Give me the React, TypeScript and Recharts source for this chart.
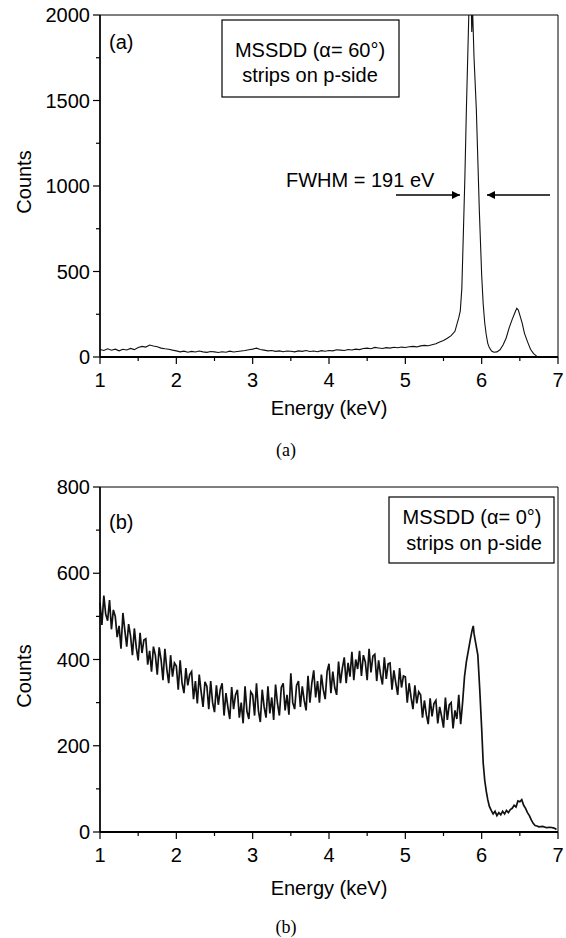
import { Line, LineChart, ReferenceArea, XAxis, YAxis } from "recharts"

const FONT = "'Liberation Sans', Arial, Helvetica, sans-serif"
const SERIF = "'Liberation Serif', 'Times New Roman', serif"

// axis ticks
const energyTicks = [1, 1.5, 2, 2.5, 3, 3.5, 4, 4.5, 5, 5.5, 6, 6.5, 7]
const countTicksA = [0, 250, 500, 750, 1000, 1250, 1500, 1750, 2000]
const countTicksB = [0, 100, 200, 300, 400, 500, 600, 700, 800]

// (a) alpha = 60 deg : flat background up to the Mn K lines
const aBaseE = [
  1, 1.05, 1.1, 1.15, 1.2, 1.25, 1.3, 1.35, 1.4, 1.45,
  1.5, 1.55, 1.6, 1.65, 1.7, 1.75, 1.8, 1.85, 1.9, 1.95,
  2, 2.05, 2.1, 2.15, 2.2, 2.25, 2.3, 2.35, 2.4, 2.45,
  2.5, 2.55, 2.6, 2.65, 2.7, 2.75, 2.8, 2.85, 2.9, 2.95,
  3, 3.05, 3.1, 3.15, 3.2, 3.25, 3.3, 3.35, 3.4, 3.45,
  3.5, 3.55, 3.6, 3.65, 3.7, 3.75, 3.8, 3.85, 3.9, 3.95,
  4, 4.05, 4.1, 4.15, 4.2, 4.25, 4.3, 4.35, 4.4, 4.45,
  4.5, 4.55, 4.6, 4.65, 4.7, 4.75, 4.8, 4.85, 4.9, 4.95,
  5, 5.05, 5.1, 5.15, 5.2, 5.25, 5.3, 5.35, 5.4, 5.45,
  5.5, 5.55, 5.6, 5.65,
]
const aBaseC = [
  44, 38, 48, 40, 46, 36, 45, 41, 50, 43,
  55, 62, 58, 70, 64, 60, 52, 48, 45, 40,
  36, 30, 34, 28, 33, 29, 35, 30, 27, 32,
  30, 26, 31, 28, 34, 29, 32, 35, 38, 42,
  46, 52, 44, 40, 36, 38, 33, 36, 31, 35,
  34, 30, 36, 33, 38, 32, 35, 31, 37, 34,
  38, 36, 42, 40, 38, 44, 41, 46, 43, 50,
  52, 48, 56, 53, 50, 55, 52, 57, 54, 58,
  56, 60, 62, 59, 65, 68, 66, 72, 78, 88,
  96, 110, 125, 150,
]
// (a) Mn K-alpha / K-beta peaks
const aPeakE = [
  5.7, 5.72, 5.74, 5.76, 5.78, 5.8, 5.82, 5.84, 5.86, 5.87,
  5.88, 5.9, 5.93, 5.95, 5.97, 6, 6.02, 6.04, 6.06, 6.08,
  6.1, 6.13, 6.16, 6.2, 6.24, 6.28, 6.32, 6.36, 6.4, 6.44,
  6.46, 6.48, 6.5, 6.53, 6.56, 6.6, 6.64, 6.68, 6.72, 6.74,
]
const aPeakC = [
  230, 270, 400, 720, 1050, 1450, 1800, 2150, 2150, 1900,
  2050, 1750, 1450, 1150, 850, 480, 310, 200, 130, 80,
  55, 35, 28, 30, 42, 70, 110, 170, 220, 265,
  285, 275, 245, 200, 140, 90, 45, 20, 5, 0,
]

// (b) alpha = 0 deg : noisy continuum
const bNoiseE = [
  1, 1.025, 1.05, 1.075, 1.1, 1.125, 1.15, 1.175,
  1.2, 1.225, 1.25, 1.275, 1.3, 1.325, 1.35, 1.375,
  1.4, 1.425, 1.45, 1.475, 1.5, 1.525, 1.55, 1.575,
  1.6, 1.625, 1.65, 1.675, 1.7, 1.725, 1.75, 1.775,
  1.8, 1.825, 1.85, 1.875, 1.9, 1.925, 1.95, 1.975,
  2, 2.025, 2.05, 2.075, 2.1, 2.125, 2.15, 2.175,
  2.2, 2.225, 2.25, 2.275, 2.3, 2.325, 2.35, 2.375,
  2.4, 2.425, 2.45, 2.475, 2.5, 2.525, 2.55, 2.575,
  2.6, 2.625, 2.65, 2.675, 2.7, 2.725, 2.75, 2.775,
  2.8, 2.825, 2.85, 2.875, 2.9, 2.925, 2.95, 2.975,
  3, 3.025, 3.05, 3.075, 3.1, 3.125, 3.15, 3.175,
  3.2, 3.225, 3.25, 3.275, 3.3, 3.325, 3.35, 3.375,
  3.4, 3.425, 3.45, 3.475, 3.5, 3.525, 3.55, 3.575,
  3.6, 3.625, 3.65, 3.675, 3.7, 3.725, 3.75, 3.775,
  3.8, 3.825, 3.85, 3.875, 3.9, 3.925, 3.95, 3.975,
  4, 4.025, 4.05, 4.075, 4.1, 4.125, 4.15, 4.175,
  4.2, 4.225, 4.25, 4.275, 4.3, 4.325, 4.35, 4.375,
  4.4, 4.425, 4.45, 4.475, 4.5, 4.525, 4.55, 4.575,
  4.6, 4.625, 4.65, 4.675, 4.7, 4.725, 4.75, 4.775,
  4.8, 4.825, 4.85, 4.875, 4.9, 4.925, 4.95, 4.975,
  5, 5.025, 5.05, 5.075, 5.1, 5.125, 5.15, 5.175,
  5.2, 5.225, 5.25, 5.275, 5.3, 5.325, 5.35, 5.375,
  5.4, 5.425, 5.45, 5.475, 5.5, 5.525, 5.55, 5.575,
  5.6, 5.625, 5.65, 5.675, 5.7, 5.725,
]
const bNoiseC = [
  532, 480, 548, 505, 490, 538, 470, 515,
  500, 452, 478, 425, 508, 468, 430, 482,
  455, 410, 472, 428, 398, 462, 415, 445,
  448, 388, 420, 372, 430, 410, 365, 428,
  400, 352, 425, 378, 345, 410, 360, 392,
  385, 330, 398, 345, 322, 380, 340, 365,
  372, 308, 350, 298, 365, 325, 290, 348,
  338, 285, 350, 300, 278, 340, 295, 330,
  345, 270, 322, 290, 262, 336, 285, 318,
  330, 265, 300, 252, 338, 280, 262, 325,
  318, 270, 345, 282, 255, 330, 290, 265,
  338, 275, 312, 260, 342, 298, 270, 335,
  345, 282, 318, 272, 368, 300, 285, 340,
  350, 290, 338, 305, 282, 362, 300, 345,
  375, 312, 350, 300, 365, 330, 308, 372,
  390, 322, 372, 335, 318, 395, 345, 380,
  405, 345, 392, 360, 418, 352, 400, 378,
  420, 362, 410, 395, 352, 425, 370, 408,
  412, 350, 398, 365, 342, 405, 355, 390,
  392, 330, 375, 345, 318, 380, 335, 362,
  360, 300, 345, 312, 285, 340, 298, 325,
  318, 265, 305, 272, 250, 310, 268, 298,
  305, 252, 290, 268, 242, 312, 260, 295,
  300, 240, 282, 262, 318, 250,
]
// (b) peaks and tail
const bPeakE = [
  5.75, 5.775, 5.8, 5.825, 5.85, 5.875, 5.89, 5.9, 5.925, 5.95,
  5.975, 6, 6.02, 6.04, 6.06, 6.08, 6.1, 6.125, 6.15, 6.175,
  6.2, 6.225, 6.25, 6.275, 6.3, 6.325, 6.35, 6.375, 6.4, 6.425,
  6.45, 6.475, 6.5, 6.525, 6.55, 6.575, 6.6, 6.625, 6.65, 6.675,
  6.7, 6.725, 6.75, 6.8, 6.85, 6.9, 6.95, 6.98,
]
const bPeakC = [
  300, 360, 395, 420, 445, 468, 478, 460, 435, 410,
  330, 240, 160, 120, 95, 75, 60, 50, 42, 48,
  38, 45, 40, 48, 42, 50, 45, 52, 55, 62,
  58, 72, 70, 75, 62, 55, 45, 38, 28, 20,
  15, 14, 12, 13, 10, 11, 9, 6,
]

const toPoints = (e: number[], c: number[]) => e.map((v, i) => ({ e: v, c: c[i] }))
const dataA = [...toPoints(aBaseE, aBaseC), ...toPoints(aPeakE, aPeakC)]
const dataB = [...toPoints(bNoiseE, bNoiseC), ...toPoints(bPeakE, bPeakC)]

function XTick(props: any) {
  const { x, y, payload } = props
  const major = Number.isInteger(payload.value)
  return (
    <g>
      <line x1={x} x2={x} y1={y} y2={y + (major ? 7 : 4)} stroke="#000" strokeWidth={1.2} />
      {major && (
        <text x={x} y={y + 30} textAnchor="middle" fontSize={20} fontFamily={FONT} fill="#000">
          {payload.value}
        </text>
      )}
    </g>
  )
}

function TopTick(props: any) {
  const { x, y } = props
  return <line x1={x} x2={x} y1={y} y2={y + 5} stroke="#000" strokeWidth={1} />
}

const makeYTick = (step: number) =>
  function YTick(props: any) {
    const { x, y, payload } = props
    const major = payload.value % step === 0
    return (
      <g>
        <line x1={x} x2={x - (major ? 7 : 4)} y1={y} y2={y} stroke="#000" strokeWidth={1.2} />
        {major && (
          <text x={x - 10} y={y + 7} textAnchor="end" fontSize={20} fontFamily={FONT} fill="#000">
            {payload.value}
          </text>
        )}
      </g>
    )
  }

const YTickA = makeYTick(500)
const YTickB = makeYTick(200)

function Spectrum({ data, yMax, yTicks, yTick, axisHeight, strokeWidth }: any) {
  return (
    <LineChart width={566} height={460} data={data} margin={{ top: 15, right: 8, bottom: 0, left: 0 }}>
      <XAxis
        xAxisId="x"
        dataKey="e"
        type="number"
        domain={[1, 7]}
        ticks={energyTicks}
        interval={0}
        height={axisHeight}
        tickSize={0}
        tickMargin={0}
        tickLine={false}
        tick={(p: any) => <XTick {...p} />}
        axisLine={{ stroke: "#000", strokeWidth: 2 }}
      />
      <XAxis
        xAxisId="top"
        orientation="top"
        type="number"
        domain={[1, 7]}
        ticks={[1, 2, 3, 4, 5, 6, 7]}
        interval={0}
        height={0}
        tickSize={0}
        tickMargin={0}
        tickLine={false}
        tick={(p: any) => <TopTick {...p} />}
        axisLine={{ stroke: "#000", strokeWidth: 1 }}
      />
      <YAxis
        yAxisId="y"
        type="number"
        domain={[0, yMax]}
        ticks={yTicks}
        interval={0}
        allowDataOverflow
        width={100}
        tickSize={0}
        tickMargin={0}
        tickLine={false}
        tick={(p: any) => yTick(p)}
        axisLine={{ stroke: "#000", strokeWidth: 1.5 }}
      />
      <ReferenceArea
        xAxisId="x"
        yAxisId="y"
        x1={1}
        x2={7}
        y1={0}
        y2={yMax}
        fill="none"
        stroke="#000"
        strokeWidth={1}
      />
      <Line
        xAxisId="x"
        yAxisId="y"
        type="linear"
        dataKey="c"
        stroke="#111"
        strokeWidth={strokeWidth}
        dot={false}
        isAnimationActive={false}
      />
    </LineChart>
  )
}

export default function App() {
  const txt = { fontFamily: FONT, fontSize: 20, fill: "#000" }
  return (
    <div style={{ position: "absolute", left: 0, top: 0, width: 566, height: 938, background: "#fff" }}>
      <div style={{ position: "absolute", left: 0, top: 0 }}>
        <Spectrum data={dataA} yMax={2000} yTicks={countTicksA} yTick={YTickA} axisHeight={103} strokeWidth={1.1} />
      </div>
      <div style={{ position: "absolute", left: 0, top: 472 }}>
        <Spectrum data={dataB} yMax={800} yTicks={countTicksB} yTick={YTickB} axisHeight={100} strokeWidth={1.7} />
      </div>
      <svg width={566} height={938} style={{ position: "absolute", left: 0, top: 0, pointerEvents: "none" }}>
        <defs>
          <marker id="arrow" viewBox="0 0 10 10" refX="10" refY="5" markerWidth="12" markerHeight="8" markerUnits="userSpaceOnUse" orient="auto">
            <path d="M0,0 L10,5 L0,10 z" fill="#000" />
          </marker>
        </defs>

        {/* panel (a) */}
        <text {...txt} x={109} y={49}>(a)</text>
        <rect x={222} y={20} width={177} height={77} fill="#fff" stroke="#000" strokeWidth={1.2} />
        <text {...txt} x={310} y={57} textAnchor="middle">MSSDD (α= 60°)</text>
        <text {...txt} x={310} y={82} textAnchor="middle">strips on p-side</text>
        <text {...txt} x={286} y={187}>FWHM = 191 eV</text>
        <line x1={396} y1={195} x2={460} y2={195} stroke="#000" strokeWidth={1.5} markerEnd="url(#arrow)" />
        <line x1={550} y1={195} x2={487} y2={195} stroke="#000" strokeWidth={1.5} markerEnd="url(#arrow)" />
        <text {...txt} x={24} y={182} textAnchor="middle" transform="rotate(-90 24 182)" dy={7}>Counts</text>
        <text {...txt} x={329} y={415} textAnchor="middle">Energy (keV)</text>
        <text x={286} y={456} textAnchor="middle" fontFamily={SERIF} fontSize={18}>(a)</text>

        {/* panel (b) */}
        <text {...txt} x={109} y={529}>(b)</text>
        <rect x={389} y={497} width={165} height={66} fill="#fff" stroke="#000" strokeWidth={1.2} />
        <text {...txt} x={472} y={524} textAnchor="middle">MSSDD (α= 0°)</text>
        <text {...txt} x={474} y={550} textAnchor="middle">strips on p-side</text>
        <text {...txt} x={24} y={676} textAnchor="middle" transform="rotate(-90 24 676)" dy={7}>Counts</text>
        <text {...txt} x={329} y={895} textAnchor="middle">Energy (keV)</text>
        <text x={286} y={933} textAnchor="middle" fontFamily={SERIF} fontSize={18}>(b)</text>
      </svg>
    </div>
  )
}
